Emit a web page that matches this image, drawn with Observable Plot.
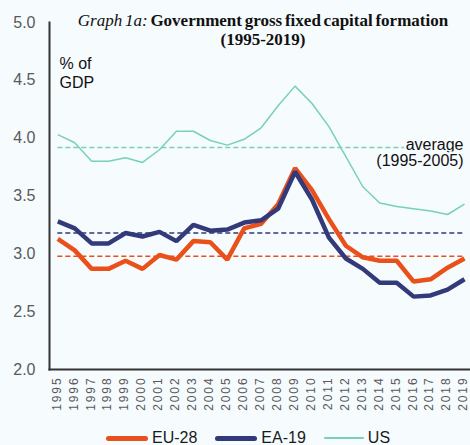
<!DOCTYPE html>
<html>
<head>
<meta charset="utf-8">
<script src="https://cdn.jsdelivr.net/npm/d3@7"></script>
<script src="https://cdn.jsdelivr.net/npm/@observablehq/plot@0.6"></script>
<style>
  html, body { margin: 0; padding: 0; background: #f6fbfe; }
  #wrap { position: relative; width: 470px; height: 445px; overflow: hidden; background: #f6fbfe; font-family: "Liberation Sans", Arial, sans-serif; }
  #title { position: absolute; left: 56px; width: 414px; top: 11px; text-align: center; font-family: "Liberation Serif", "Times New Roman", serif; font-size: 17px; line-height: 19px; font-weight: bold; color: #111; word-spacing: -1.5px; }
  #title i { font-weight: normal; }
  #legend { position: absolute; left: 106px; top: 429px; display: flex; align-items: center; font-size: 16px; color: #1a1a1a; line-height: 18px; }
  .item { display: flex; align-items: center; margin-right: 18px; }
  .sw { display: inline-block; width: 42px; margin-right: 4px; border-radius: 3px; }
  [aria-label="x-axis tick label"] text { letter-spacing: 1.9px; }
</style>
</head>
<body>
<div id="wrap">
  <div id="chart"></div>
  <div id="title"><i>Graph 1a:</i> Government gross fixed capital formation<br>(1995-2019)</div>
  <div id="legend"></div>
</div>
<script>
// ---- data ----
const years = [1995,1996,1997,1998,1999,2000,2001,2002,2003,2004,2005,2006,2007,2008,2009,2010,2011,2012,2013,2014,2015,2016,2017,2018,2019];
const seriesNames = ["EU-28", "EA-19", "US"];
const eu28 = [3.13,3.03,2.87,2.87,2.94,2.87,2.99,2.95,3.11,3.10,2.95,3.22,3.26,3.43,3.74,3.55,3.30,3.07,2.97,2.94,2.94,2.76,2.78,2.88,2.96];
const ea19 = [3.28,3.22,3.09,3.09,3.18,3.15,3.19,3.11,3.25,3.20,3.21,3.27,3.29,3.39,3.71,3.47,3.14,2.96,2.87,2.75,2.75,2.63,2.64,2.69,2.78];
const us   = [4.03,3.96,3.80,3.80,3.83,3.79,3.90,4.06,4.06,3.98,3.94,3.99,4.09,4.28,4.45,4.30,4.10,3.84,3.58,3.44,3.41,3.39,3.37,3.34,3.43];
const averages1995_2005 = [2.98, 3.18, 3.92]; // EU-28, EA-19, US
const yTicks = [2.0, 2.5, 3.0, 3.5, 4.0, 4.5, 5.0];
const colors = ["#e9501a", "#323a7a", "#78d2b1"];
const widths = [4.5, 4.5, 1.5];

const values = [eu28, ea19, us];
const rows = [];
seriesNames.forEach((s, i) => values[i].forEach((v, j) => rows.push({series: s, year: years[j], value: v})));
const avgRows = seriesNames.map((s, i) => ({series: s, value: averages1995_2005[i], x1: years[0], x2: years[years.length - 1]}));

const lineMark = (i) => Plot.lineY(rows.filter(d => d.series === seriesNames[i]), {
  x: "year", y: "value", stroke: colors[i], strokeWidth: widths[i], strokeLinejoin: "miter", strokeLinecap: "butt"
});

const chart = Plot.plot({
  width: 470,
  height: 445,
  marginLeft: 49,
  marginRight: 0,
  marginTop: 22,
  marginBottom: 76,
  style: { background: "transparent", fontFamily: "'Liberation Sans', Arial, sans-serif" },
  x: { domain: [1994.51, 2019.354] },
  y: { domain: [2, 5] },
  marks: [
    Plot.ruleY(avgRows, { y: "value", x1: "x1", x2: "x2", stroke: d => colors[seriesNames.indexOf(d.series)], strokeWidth: 1.5, strokeDasharray: "5,3" }),
    lineMark(2),
    lineMark(0),
    lineMark(1),
    Plot.text(["average\n(1995-2005)"], { x: years[years.length - 1], y: averages1995_2005[2], dx: -1, dy: 5, textAnchor: "end", lineAnchor: "middle", lineHeight: 1.0, fontSize: 16, fill: "#111", stroke: "#f6fbfe", strokeWidth: 5 }),
    Plot.text(["% of\nGDP"], { frameAnchor: "top-left", dx: 10, dy: 49.5, textAnchor: "start", lineAnchor: "middle", lineHeight: 1.2, fontSize: 16, fill: "#111" }),
    Plot.frame({ anchor: "left", stroke: "#333", strokeWidth: 2 }),
    Plot.frame({ anchor: "bottom", stroke: "#333", strokeWidth: 2 }),
    Plot.axisY({ ticks: yTicks, tickFormat: d => d.toFixed(1), tickSize: 0, tickPadding: 14, fontSize: 16, color: "#595959", label: null }),
    Plot.axisX({ ticks: years, tickFormat: d => String(d), tickRotate: -90, tickSize: 0, tickPadding: 7, fontSize: 12, dx: -1, color: "#595959", label: null })
  ]
});
document.getElementById("chart").appendChild(chart);

// legend
const legend = document.getElementById("legend");
seriesNames.forEach((s, i) => {
  const it = document.createElement("div");
  it.className = "item";
  const sw = document.createElement("span");
  sw.className = "sw";
  sw.style.height = (i < 2 ? 5 : 1.5) + "px";
  sw.style.background = colors[i];
  sw.style.width = (i < 2 ? 42 : 40) + "px";
  const t = document.createElement("span");
  t.textContent = s;
  it.appendChild(sw); it.appendChild(t);
  legend.appendChild(it);
});
</script>
</body>
</html>
